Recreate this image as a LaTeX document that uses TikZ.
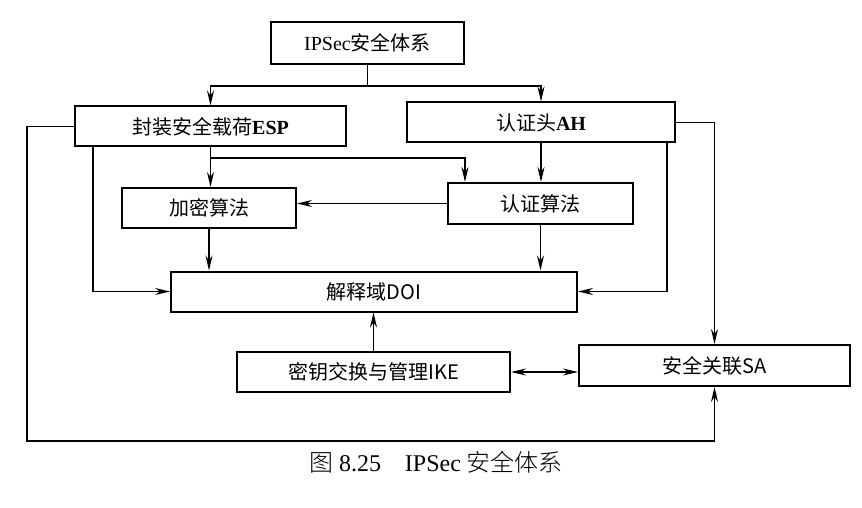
\documentclass[tikz,border=0pt]{standalone}
\usepackage{fontspec}
\setmainfont{Liberation Serif}
\newfontfamily\cjk{Noto Sans CJK SC}
\newfontfamily\cjklight{Noto Sans CJK SC Light}
\usetikzlibrary{arrows.meta,calc}
\begin{document}
\begin{tikzpicture}[x=1pt,y=-1pt,
  box/.style={draw,line width=2pt,rectangle,inner sep=0pt,font=\fontsize{20}{23}\selectfont},
  conn/.style={line width=1.4pt},
  arr/.style={conn,-{Stealth[length=15pt,width=7pt]}},
  darr/.style={conn,{Stealth[length=15pt,width=7pt]}-{Stealth[length=15pt,width=7pt]}}]
\useasboundingbox (0,0) rectangle (862,508);
\node[box,minimum width=193pt,minimum height=42pt] (ipsec) at (367.5,43) {IPSec{\cjk 安全体系}};
\node[box,minimum width=271pt,minimum height=40pt] (esp) at (210.5,126.5) {{\cjk 封装安全载荷}\textbf{ESP}};
\node[box,minimum width=268pt,minimum height=40pt] (ah) at (541,122.5) {{\cjk 认证头}\textbf{AH}};
\node[box,minimum width=174pt,minimum height=40pt] (enc) at (209,208) {\cjk 加密算法};
\node[box,minimum width=185pt,minimum height=41pt] (auth) at (540.5,203.5) {\cjk 认证算法};
\node[box,minimum width=406pt,minimum height=40pt] (doi) at (374,291.5) {\cjk 解释域DOI};
\node[box,minimum width=273pt,minimum height=40pt] (ike) at (373.5,372) {\cjk 密钥交换与管理IKE};
\node[box,minimum width=271pt,minimum height=41pt] (sa) at (714.5,365.5) {\cjk 安全关联SA};
\coordinate (top) at (367.5,86);
\coordinate (b1) at (210.5,158);
\coordinate (lp) at (27,441);
\draw[conn] (ipsec.south) -- (top);
\draw[arr] (top) -| (esp.north);
\draw[arr] (top) -| (ah.north);
\draw[arr] (esp.south) -- (esp.south |- enc.north);
\draw[arr] (b1) -| ([xshift=18pt]auth.north west);
\draw[arr] (ah.south) -- (ah.south |- auth.north);
\draw[arr] (auth.west) -- (auth.west -| enc.east);
\draw[arr] (auth.south) -- (auth.south |- doi.north);
\draw[arr] (enc.south) -- (enc.south |- doi.north);
\draw[arr] ([xshift=19pt]esp.south west) |- (doi.west);
\draw[arr] (esp.west) -| (lp) -| (sa.south);
\draw[arr] ([xshift=-9pt]ah.south east) |- (doi.east);
\draw[arr] (ah.east) -| (sa.north);
\draw[arr] (ike.north) -- (ike.north |- doi.south);
\draw[darr] (ike.east) -- (ike.east -| sa.west);
\node[font=\fontsize{24}{27}\selectfont] (cap) at (436,462) {{\cjklight 图} 8.25\quad IPSec {\cjklight 安全体系}};
\end{tikzpicture}
\end{document}
